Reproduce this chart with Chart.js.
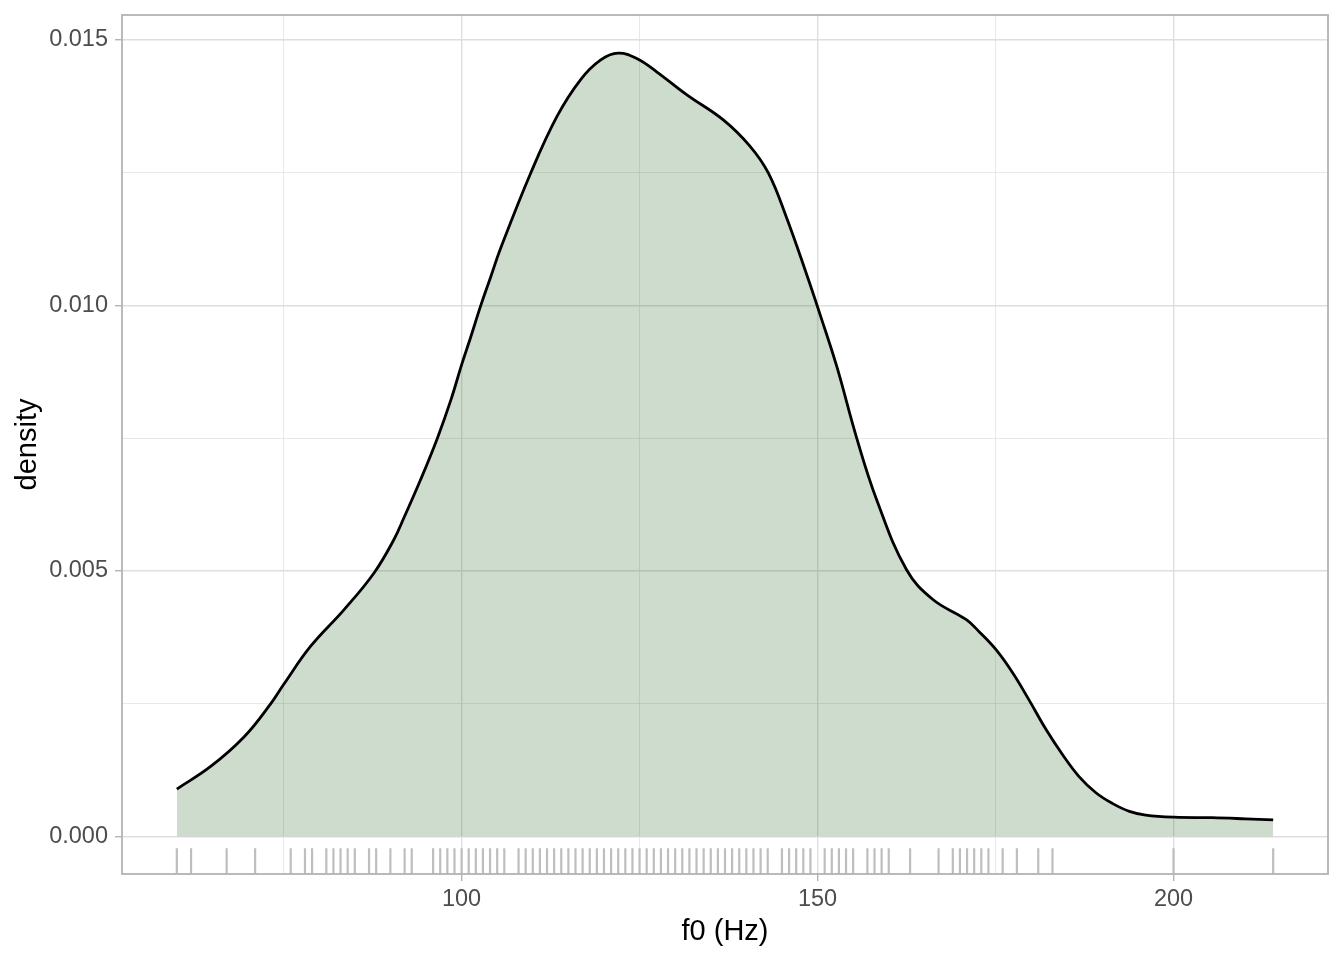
<!DOCTYPE html>
<html>
<head>
<meta charset="utf-8">
<script src="https://cdn.jsdelivr.net/npm/chart.js@4/dist/chart.umd.min.js"></script>
<style>
  html, body { margin: 0; padding: 0; background: #ffffff; }
  #wrap { width: 1344px; height: 960px; }
</style>
</head>
<body>
<div id="wrap"><canvas id="c" width="1344" height="960"></canvas></div>
<script>
// Density curve (f0 in Hz, density)
const curveX = [60, 64.8, 69.5, 73.2, 75.0, 78.8, 83.5, 87.7, 90.5, 91.9, 94.25, 96.6, 98.5, 100.0, 101.3, 102.7, 104.1, 105.5, 109.7, 113.4, 116.7, 119.5, 122.0, 124.6, 127.4, 131.6, 136.8, 140.5, 143.1, 145.6, 148.4, 150.3, 152.7, 155.5, 158.3, 162.5, 166.2, 170.9, 172.8, 175.1, 177.4, 179.7, 182.1, 184.4, 186.7, 189.1, 191.4, 193.8, 196.1, 200.1, 205.4, 210.1, 214];
const curveY = [0.00089, 0.00132, 0.00188, 0.00250, 0.00286, 0.00358, 0.00427, 0.00496, 0.00559, 0.00600, 0.00672, 0.00750, 0.00822, 0.00888, 0.00941, 0.01000, 0.01054, 0.01108, 0.01249, 0.01356, 0.01425, 0.01462, 0.01475, 0.01465, 0.01440, 0.01397, 0.01349, 0.01300, 0.01249, 0.01167, 0.01061, 0.00985, 0.00885, 0.00750, 0.00634, 0.00502, 0.00446, 0.00408, 0.00384, 0.00351, 0.00308, 0.00257, 0.00201, 0.00154, 0.00113, 0.00082, 0.00062, 0.00047, 0.00040, 0.00036, 0.00035, 0.00033, 0.00031];

// Rug (observed f0 values)
const rugValues = [60, 62, 67, 71, 76, 78, 79, 81, 82, 83, 84, 85, 87, 88, 90, 92, 93, 96, 97, 98, 99, 100, 101, 102, 103, 104, 105, 106, 108, 109, 110, 111, 112, 113, 114, 115, 116, 117, 118, 119, 120, 121, 122, 123, 124, 125, 126, 127, 128, 129, 130, 131, 132, 133, 134, 135, 136, 137, 138, 139, 140, 141, 142, 143, 145, 146, 147, 148, 149, 151, 152, 153, 154, 155, 157, 158, 159, 160, 163, 167, 169, 170, 171, 172, 173, 174, 176, 178, 181, 183, 200, 214];

// Axis settings
const xRange = [52.3, 221.7];
const yRange = [-0.00071, 0.01547];
const xStep = 25;
const yStep = 0.0025;
const xTitle = 'f0 (Hz)';
const yTitle = 'density';

const FONT = '"Liberation Sans", Arial, Helvetica, sans-serif';
const isMinorX = v => Math.round(v / xStep) % 2 === 1;
const isMinorY = v => Math.round(v / yStep) % 2 === 1;

const points = curveX.map((x, i) => ({x: x, y: curveY[i]}));

const rugAndBorder = {
  id: 'rugAndBorder',
  afterDatasetsDraw(chart) {
    const ctx = chart.ctx;
    const a = chart.chartArea;
    const xs = chart.scales.x;
    const len = 0.03 * (a.bottom - a.top);
    ctx.save();
    ctx.strokeStyle = '#BEBEBE';
    ctx.lineWidth = 2.2;
    ctx.lineCap = 'butt';
    ctx.beginPath();
    rugValues.forEach(v => {
      const px = xs.getPixelForValue(v);
      ctx.moveTo(px, a.bottom);
      ctx.lineTo(px, a.bottom - len);
    });
    ctx.stroke();
    ctx.strokeStyle = '#B3B3B3';
    ctx.lineWidth = 1.8;
    ctx.strokeRect(a.left, a.top, a.right - a.left, a.bottom - a.top);
    ctx.restore();
  }
};

new Chart(document.getElementById('c'), {
  type: 'line',
  data: {
    datasets: [{
      data: points,
      borderColor: '#000000',
      borderWidth: 2.8,
      backgroundColor: 'rgba(25,90,20,0.21)',
      fill: 'origin',
      pointRadius: 0,
      pointHoverRadius: 0,
      tension: 0.4
    }]
  },
  options: {
    responsive: false,
    animation: false,
    events: [],
    layout: { padding: { top: 15, right: 16, left: 0, bottom: 0 } },
    plugins: { legend: { display: false }, tooltip: { enabled: false } },
    scales: {
      x: {
        type: 'linear',
        min: xRange[0],
        max: xRange[1],
        afterFit: s => { s.height = 86; s.paddingLeft = 0; s.paddingRight = 0; },
        border: { display: false },
        grid: {
          color: c => '#DEDEDE',
          lineWidth: c => (c.tick && isMinorX(c.tick.value)) ? 0.7 : 1.4,
          tickLength: 7,
          tickColor: c => (c.tick && isMinorX(c.tick.value)) ? 'rgba(0,0,0,0)' : '#B3B3B3',
          tickWidth: 1.4
        },
        ticks: {
          stepSize: xStep,
          includeBounds: false,
          autoSkip: false,
          maxRotation: 0,
          padding: 4,
          color: '#4D4D4D',
          font: { family: FONT, size: 23.5 },
          callback: v => isMinorX(v) ? '' : String(Math.round(v))
        },
        title: {
          display: true,
          text: xTitle,
          color: '#000000',
          font: { family: FONT, size: 29 },
          padding: { top: 0, bottom: 10.6 }
        }
      },
      y: {
        type: 'linear',
        min: yRange[0],
        max: yRange[1],
        afterFit: s => { s.width = 122; s.paddingTop = 0; s.paddingBottom = 0; },
        border: { display: false },
        grid: {
          color: c => '#DEDEDE',
          lineWidth: c => (c.tick && isMinorY(c.tick.value)) ? 0.7 : 1.4,
          tickLength: 7,
          tickColor: c => (c.tick && isMinorY(c.tick.value)) ? 'rgba(0,0,0,0)' : '#B3B3B3',
          tickWidth: 1.4
        },
        ticks: {
          stepSize: yStep,
          includeBounds: false,
          autoSkip: false,
          padding: 7,
          color: '#4D4D4D',
          font: { family: FONT, size: 23.5 },
          callback: v => isMinorY(v) ? '' : v.toFixed(3)
        },
        title: {
          display: true,
          text: yTitle,
          color: '#000000',
          font: { family: FONT, size: 29 },
          padding: { top: 10.6, bottom: 0 }
        }
      }
    }
  },
  plugins: [rugAndBorder]
});
</script>
</body>
</html>
